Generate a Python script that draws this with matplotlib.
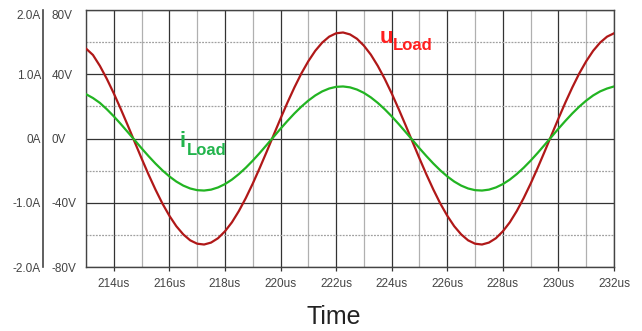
import matplotlib
matplotlib.use("Agg")
import matplotlib.pyplot as plt
import numpy as np
from matplotlib.ticker import MultipleLocator, FixedLocator

plt.rcParams['font.family'] = ['Liberation Sans', 'DejaVu Sans']

# sample times in us (trace read every 0.25us)
t_us = np.arange(213.0, 232.001, 0.25)
# load voltage (V)
u_load = [56.0, 52.0, 45.2, 37.1, 28.1, 18.4, 8.3, -2.1, -12.4, -22.4,
          -31.8, -40.5, -48.1, -54.6, -59.7, -63.4, -65.5, -66.0, -64.8, -62.1,
          -57.8, -52.2, -45.2, -37.1, -28.1, -18.4, -8.3, 2.1, 12.4, 22.4,
          31.8, 40.5, 48.1, 54.6, 59.7, 63.4, 65.5, 66.0, 64.8, 62.1,
          57.8, 52.2, 45.2, 37.1, 28.1, 18.4, 8.3, -2.1, -12.4, -22.4,
          -31.8, -40.5, -48.1, -54.6, -59.7, -63.4, -65.5, -66.0, -64.8, -62.1,
          -57.8, -52.2, -45.2, -37.1, -28.1, -18.4, -8.3, 2.1, 12.4, 22.4,
          31.8, 40.5, 48.1, 54.6, 59.7, 63.4, 65.5]
# load current (A)
i_load = [0.69, 0.63, 0.554, 0.455, 0.345, 0.226, 0.101, -0.025, -0.152, -0.274,
          -0.390, -0.496, -0.590, -0.670, -0.733, -0.778, -0.804, -0.810, -0.796, -0.762,
          -0.710, -0.640, -0.554, -0.455, -0.345, -0.226, -0.101, 0.025, 0.152, 0.274,
          0.390, 0.496, 0.590, 0.670, 0.733, 0.778, 0.804, 0.810, 0.796, 0.762,
          0.710, 0.640, 0.554, 0.455, 0.345, 0.226, 0.101, -0.025, -0.152, -0.274,
          -0.390, -0.496, -0.590, -0.670, -0.733, -0.778, -0.804, -0.810, -0.796, -0.762,
          -0.710, -0.640, -0.554, -0.455, -0.345, -0.226, -0.101, 0.025, 0.152, 0.274,
          0.390, 0.496, 0.590, 0.670, 0.733, 0.778, 0.810]

x_ticks = [214, 216, 218, 220, 222, 224, 226, 228, 230, 232]
x_labels = ['%dus' % v for v in x_ticks]
v_ticks = [-80, -40, 0, 40, 80]
v_labels = ['-80V', '-40V', '0V', '40V', '80V']
a_ticks = [-2, -1, 0, 1, 2]
a_labels = ['-2.0A', '-1.0A', '0A', '1.0A', '2.0A']

px = 0.72  # points per pixel at dpi 100

fig = plt.figure(figsize=(6.42, 3.31), dpi=100)
ax = fig.add_axes([86 / 642, 1 - 267 / 331, 528 / 642, 257 / 331])

ax.plot(t_us, u_load, color='#b01818', lw=1.6, zorder=3)
ax.set_xlim(213.0, 232.0)
ax.set_ylim(-80, 80)

ax.xaxis.set_major_locator(FixedLocator(x_ticks))
ax.set_xticklabels(x_labels)
ax.xaxis.set_minor_locator(MultipleLocator(1))
ax.set_yticks(v_ticks)
ax.set_yticklabels(v_labels)
ax.yaxis.set_minor_locator(FixedLocator([-60, -20, 20, 60]))

ax.grid(which='major', color='#333333', lw=0.9)
ax.grid(which='minor', axis='x', color='#b0b0b0', lw=0.9, ls='-')
ax.grid(which='minor', axis='y', color='#a0a0a0', lw=0.9, ls=(0, (1.5, 1)))
ax.set_axisbelow(True)

for s in ax.spines.values():
    s.set_color('#444444')
    s.set_linewidth(1.0)

ax.tick_params(axis='x', which='major', length=3, width=0.9, color='#333333',
               pad=5, labelsize=8.5, labelcolor='#444444')
ax.tick_params(axis='x', which='minor', length=0)
ax.tick_params(axis='y', which='both', length=0, pad=34 * px,
               labelsize=8.5, labelcolor='#444444')
for lab in ax.get_yticklabels():
    lab.set_horizontalalignment('left')
ax.get_yticklabels()[-1].set_verticalalignment('top')

# current axis, drawn on the far left
ax2 = ax.twinx()
ax2.plot(t_us, i_load, color='#22b422', lw=1.6, zorder=3)
ax2.set_ylim(-2, 2)
ax2.yaxis.tick_left()
ax2.set_yticks(a_ticks)
ax2.set_yticklabels(a_labels)
for k in ['right', 'top', 'bottom']:
    ax2.spines[k].set_visible(False)
ax2.spines['left'].set_visible(True)
ax2.spines['left'].set_position(('outward', 43 * px))
ax2.spines['left'].set_color('#444444')
ax2.spines['left'].set_linewidth(1.2)
ax2.tick_params(axis='y', length=0, pad=2 * px, labelsize=8.5,
                labelcolor='#444444')
ax2.get_yticklabels()[-1].set_verticalalignment('top')

# trace labels
ax.text(223.55, 59.5, 'u', color='#ff1f1f', fontsize=16, fontweight='bold',
        ha='left', va='baseline')
ax.text(224.05, 55.0, 'Load', color='#ff1f1f', fontsize=12, fontweight='bold',
        ha='left', va='baseline')
ax.text(216.38, -5.3, 'i', color='#22b44c', fontsize=16, fontweight='bold',
        ha='left', va='baseline')
ax.text(216.64, -10.5, 'Load', color='#22b44c', fontsize=12, fontweight='bold',
        ha='left', va='baseline')

ax.set_xlabel('Time', fontsize=18, color='#222222')
ax.xaxis.set_label_coords((334 - 86) / 528, -(317 - 267) / 257)
ax.xaxis.label.set_verticalalignment('center')

fig.savefig('out.png', dpi=100)
